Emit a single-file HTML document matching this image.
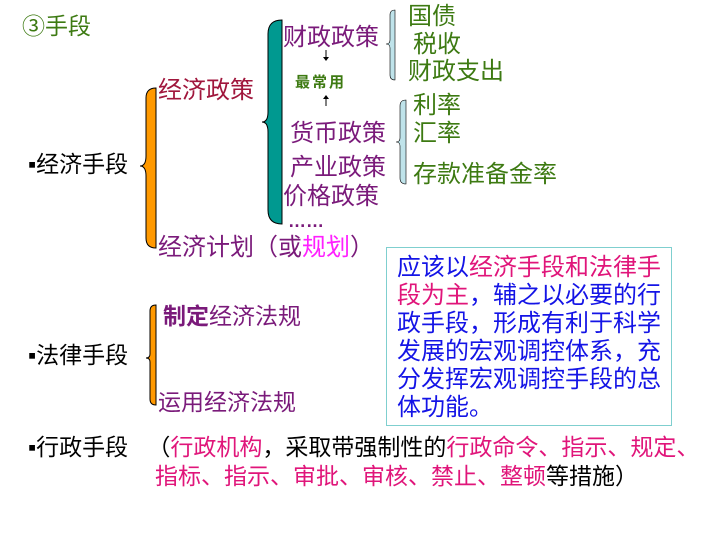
<!DOCTYPE html><html><head><meta charset="utf-8"><style>
body{margin:0;width:720px;height:540px;background:#fff;position:relative;overflow:hidden;font-family:"Liberation Sans","WenQuanYi Zen Hei","Noto Sans CJK SC",sans-serif;}
.t{position:absolute;white-space:nowrap;font-size:23px;line-height:26px;}
.p{color:#7a1a7a}.g{color:#3d7a12}.k{color:#000}.m{color:#e0157a}.b{color:#1414e6}.r{color:#a0163c}
</style></head><body>
<svg width="720" height="540" style="position:absolute;left:0;top:0">
<path d="M156,88 Q146,88 146,98 L146,156 Q146,166 140,166 Q146,166 146,176 L146,238 Q146,248 156,248 Z" fill="#ff9900" stroke="#000" stroke-width="1"/>
<path d="M282,20 Q268,20 268,34 L268,112 Q268,122 262,122 Q268,122 268,132 L268,210 Q268,224 282,224 Z" fill="#009990" stroke="#000" stroke-width="1"/>
<path d="M395,10 Q390,10 390,15 L390,40 Q390,44 386,44 Q390,44 390,48 L390,75 Q390,80 395,80 Z" fill="#bfe3ea" stroke="#000" stroke-width="0.6"/>
<path d="M406,100 Q400,100 400,106 L400,138 Q400,142 396,142 Q400,142 400,146 L400,178 Q400,184 406,184 Z" fill="#bfe3ea" stroke="#000" stroke-width="0.6"/>
<path d="M156,305 Q150,305 150,311 L150,354 Q150,358 146,358 Q150,358 150,362 L150,399 Q150,405 156,405 Z" fill="#ff9900" stroke="#000" stroke-width="1"/>
<line x1="326" y1="50" x2="326" y2="58" stroke="#000"/><path d="M323,57 L329,57 L326,61 Z"/>
<line x1="326" y1="98" x2="326" y2="106" stroke="#000"/><path d="M323,99 L329,99 L326,95 Z"/>
<rect x="386.5" y="247.5" width="285" height="178" fill="#fff" stroke="#7fcfcf" stroke-width="1"/>
</svg>
<div class="t g" style="left:22px;top:13px">③手段</div>
<div class="t r" style="left:158px;top:78px;font-size:24px">经济政策</div>
<div class="t p" style="left:283px;top:25px;font-size:24px">财政政策</div>
<div class="t g" style="left:295px;top:70px;font-size:15px;font-weight:bold;letter-spacing:2px">最常用</div>
<div class="t p" style="left:290px;top:121px;font-size:24px">货币政策</div>
<div class="t p" style="left:290px;top:155px;font-size:24px">产业政策</div>
<div class="t p" style="left:283px;top:184px;font-size:24px">价格政策</div>
<div class="t p" style="left:288px;top:208px;font-size:18px;font-weight:bold">……</div>
<div class="t g" style="left:408px;top:4px;font-size:24px">国债</div>
<div class="t g" style="left:413px;top:32px;font-size:24px">税收</div>
<div class="t g" style="left:408px;top:59px;font-size:24px">财政支出</div>
<div class="t g" style="left:413px;top:93px;font-size:24px">利率</div>
<div class="t g" style="left:413px;top:121px;font-size:24px">汇率</div>
<div class="t g" style="left:413px;top:162px;font-size:24px">存款准备金率</div>
<div class="t p" style="left:158px;top:235px;font-size:24px">经济计划（或<span style="color:#ff20ff">规划</span>）</div>
<div class="t k" style="left:28px;top:151px">▪经济手段</div>
<div class="t p" style="left:163px;top:303px"><b>制定</b>经济法规</div>
<div class="t p" style="left:158px;top:389px">运用经济法规</div>
<div class="t k" style="left:28px;top:342px">▪法律手段</div>
<div class="t b" style="left:397px;top:254px;line-height:28px;font-size:24px;white-space:normal;width:268px">应该以<span class="m">经济手段和法律手段为主</span>，辅之以必要的行政手段，形成有利于科学发展的宏观调控体系，充分发挥宏观调控手段的总体功能。</div>
<div class="t k" style="left:28px;top:434px">▪行政手段&nbsp;&nbsp;&nbsp;（<span class="m">行政机构</span>，采取带强制性的<span class="m">行政命令、指示、规定、</span></div>
<div class="t k" style="left:155px;top:463px"><span class="m">指标、指示、审批、审核、禁止、整顿</span>等措施）</div>
</body></html>
